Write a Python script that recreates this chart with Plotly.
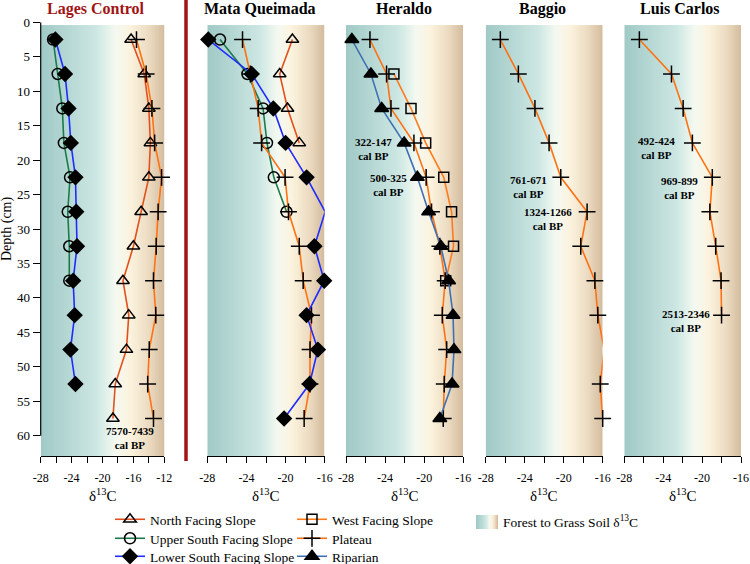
import numpy as np
import plotly.graph_objects as go

W, H = 750, 564

# ---------------- data ----------------
depths = [2.5, 7.5, 12.5, 17.5, 22.5, 27.5, 32.5, 37.5, 42.5, 47.5, 52.5, 57.5]

# Lages Control
lages_north = [-16.3, -14.6, -14.0, -13.8, -14.0, -15.0, -16.0, -17.35, -16.6, -16.9, -18.35, -18.65]
lages_upper = [-26.4, -25.8, -25.2, -25.0, -24.2, -24.5, -24.3, -24.3]
lages_lower = [-26.1, -24.85, -24.4, -24.1, -23.5, -23.4, -23.3, -23.8, -23.6, -24.15, -23.5]
lages_plateau = [-15.6, -14.35, -13.6, -13.25, -12.35, -12.8, -13.05, -13.4, -13.1, -13.95, -14.15, -13.4]

# Mata Queimada
mata_north = [-19.3, -20.6, -19.8, -18.6]
mata_upper = [-26.7, -23.9, -22.3, -21.9, -21.2, -19.9]
mata_lower = [-27.9, -23.45, -21.25, -20.0, -17.85, -15.95, -17.05, -16.05, -17.85, -16.7, -17.55, -20.15]
mata_plateau = [-24.4, -23.6, -22.8, -22.45, -20.05, -19.7, -18.6, -18.2, -17.35, -17.5, -17.5, -18.1]

# Heraldo
heraldo_riparian = [-27.4, -25.45, -24.35, -22.05, -20.7, -19.55, -18.3, -17.5, -17.05, -16.95, -17.15, -18.4]
heraldo_plateau = [-25.55, -23.85, -23.4, -21.05, -19.8, -19.25, -18.4, -17.85, -18.15, -17.7, -17.95, -18.05]
heraldo_west_depths = [7.5, 12.5, 17.5, 22.5, 27.5, 32.5, 37.5]
heraldo_west = [-23.1, -21.35, -19.85, -18.0, -17.2, -17.0, -17.8]

# Baggio
baggio_plateau = [-26.5, -24.65, -22.95, -21.5, -20.3, -17.6, -18.25, -16.8, -16.5, -15.85, -16.25, -16.0]

# Luis Carlos
luis_plateau = [-26.45, -23.15, -21.95, -21.0, -18.95, -19.2, -18.6, -18.05, -18.0]

panel_titles = ["Lages Control", "Mata Queimada", "Heraldo", "Baggio", "Luis Carlos"]

# dating annotations: (panel index, x value, depth, text)
dates = [
    (0, -16.4, 60.3, "7570-7439<br>cal BP"),
    (2, -25.2, 18.4, "322-147<br>cal BP"),
    (2, -23.7, 23.6, "500-325<br>cal BP"),
    (3, -23.6, 23.9, "761-671<br>cal BP"),
    (3, -21.6, 28.5, "1324-1266<br>cal BP"),
    (4, -24.65, 18.2, "492-424<br>cal BP"),
    (4, -22.35, 24.0, "969-899<br>cal BP"),
    (4, -21.7, 43.4, "2513-2346<br>cal BP"),
]

x_ranges = [(-28, -12), (-28, -16), (-28, -16), (-28, -16), (-28, -16)]
y_ticks = [0, 5, 10, 15, 20, 25, 30, 35, 40, 45, 50, 55, 60]

gradient_stops = [
    [0.0, "#a0c9c6"], [0.45, "#cde7e3"], [0.6, "#f4f9f1"],
    [0.72, "#fcf3df"], [0.88, "#ebdac0"], [1.0, "#d4bc9e"],
]

# ---------------- styles ----------------
FONT = "Liberation Serif"
series_style = {
    "North Facing Slope": dict(color="#e2501c", symbol="triangle-up-open", size=11, legend="legend"),
    "Upper South Facing Slope": dict(color="#1d7a4c", symbol="circle-open", size=11, legend="legend2"),
    "Lower South Facing Slope": dict(color="#1f2cff", symbol="diamond", size=11, legend="legend3"),
    "West Facing Slope": dict(color="#ff7b1c", symbol="square-open", size=10, legend="legend4"),
    "Plateau": dict(color="#ff7212", symbol="cross-thin", size=12, legend="legend5"),
    "Riparian": dict(color="#3f70b2", symbol="triangle-up", size=12, legend="legend6"),
}
# legend placement (left px, top px) for each single-entry legend
legend_pos = {
    "legend": (110, 504), "legend2": (110, 523), "legend3": (110, 541),
    "legend4": (292, 504), "legend5": (292, 523), "legend6": (292, 541),
}

# pixel geometry of panels
px_x = [(40.7, 164.3), (207.3, 324.7), (346.0, 463.3), (485.7, 602.7), (624.3, 741.0)]
py_top, py_bot = 22.3, 456.0
y_range = [62.94, 0]

fig = go.Figure()

def xa(i):
    return "x" if i == 0 else f"x{i+1}"

def ya(i):
    return "y" if i == 0 else f"y{i+1}"

# background gradients
for i, (x0, x1) in enumerate(x_ranges):
    n = 160
    edges = np.linspace(x0, x1, n + 1)
    fig.add_trace(go.Heatmap(
        x=edges, y=[0.4, 62.94], z=[np.linspace(0, 1, n).tolist()],
        colorscale=gradient_stops, zmin=0, zmax=1, showscale=False,
        hoverinfo="skip", xaxis=xa(i), yaxis=ya(i),
    ))

shown = set()

def add_series(panel, name, xs, ds):
    st = series_style[name]
    show = name not in shown
    shown.add(name)
    fig.add_trace(go.Scatter(
        x=xs, y=ds[:len(xs)], mode="lines+markers", name=name,
        legendgroup=name, showlegend=show, legend=st["legend"], cliponaxis=False,
        line=dict(color=st["color"], width=1.6),
        marker=dict(symbol=st["symbol"], size=st["size"], color="black",
                    line=dict(color="black", width=1.5)),
        xaxis=xa(panel), yaxis=ya(panel),
    ))

add_series(0, "North Facing Slope", lages_north, depths)
add_series(0, "Upper South Facing Slope", lages_upper, depths)
add_series(0, "Lower South Facing Slope", lages_lower, depths)
add_series(2, "West Facing Slope", heraldo_west, heraldo_west_depths)
add_series(0, "Plateau", lages_plateau, depths)
add_series(2, "Plateau", heraldo_plateau, depths)
add_series(2, "Riparian", heraldo_riparian, depths)
add_series(1, "North Facing Slope", mata_north, depths)
add_series(1, "Upper South Facing Slope", mata_upper, depths)
add_series(1, "Plateau", mata_plateau, depths)
add_series(1, "Lower South Facing Slope", mata_lower, depths)
add_series(3, "Plateau", baggio_plateau, depths)
add_series(4, "Plateau", luis_plateau, depths)

# axes
layout = dict(
    width=W, height=H, margin=dict(l=0, r=0, t=0, b=0, autoexpand=False),
    paper_bgcolor="white", plot_bgcolor="white",
    font=dict(family=FONT, color="black", size=12),
)
for i, (x0, x1) in enumerate(x_ranges):
    tv = list(range(x0, x1 + 1, 2))
    tt = [str(v) if (v - x0) % 4 == 0 else "" for v in tv]
    key = "xaxis" if i == 0 else f"xaxis{i+1}"
    ykey = "yaxis" if i == 0 else f"yaxis{i+1}"
    layout[key] = dict(
        domain=[px_x[i][0] / W, px_x[i][1] / W], range=[x0, x1], automargin=False,
        anchor=ya(i), tickvals=tv, ticktext=tt, ticks="outside", ticklen=6,
        tickwidth=1.2, tickcolor="black", showline=True, linecolor="black",
        linewidth=1.2, showgrid=False, zeroline=False, fixedrange=True,
        tickfont=dict(size=12), ticklabelstandoff=4, ticklabeloverflow="allow",
    )
    layout[ykey] = dict(
        domain=[1 - py_bot / H, 1 - py_top / H], range=y_range, automargin=False,
        anchor=xa(i), showgrid=False, zeroline=False, fixedrange=True,
        showticklabels=(i == 0), ticks="outside" if i == 0 else "",
        tickvals=y_ticks if i == 0 else None, ticklen=7, tickwidth=1.2,
        tickcolor="black", showline=False, tickfont=dict(size=13),
    )

# legend swatch axis for the gradient
layout["xaxis6"] = dict(domain=[476 / W, 498 / W], range=[0, 1], visible=False, anchor="y6",
                        fixedrange=True, automargin=False)
layout["yaxis6"] = dict(domain=[1 - 529 / H, 1 - 515 / H], range=[0, 1], visible=False, anchor="x6",
                        fixedrange=True, automargin=False)
fig.add_trace(go.Heatmap(
    x=np.linspace(0, 1, 41), y=[0, 1], z=[np.linspace(0, 1, 40).tolist()],
    colorscale=gradient_stops, zmin=0, zmax=1, showscale=False,
    hoverinfo="skip", xaxis="x6", yaxis="y6",
))

for key, (lx, ly) in legend_pos.items():
    layout[key] = dict(x=lx / W, y=1 - ly / H, xanchor="left", yanchor="top",
                       font=dict(size=13.5, family=FONT), bgcolor="rgba(0,0,0,0)",
                       itemwidth=30, traceorder="normal")

fig.update_layout(**layout)

annotations = []
title_centers = [95.7, 260, 403.7, 542, 680]
for i, t in enumerate(panel_titles):
    annotations.append(dict(
        text=f"<b>{t}</b>", x=title_centers[i] / W, y=1 - 8.5 / H, xref="paper", yref="paper",
        showarrow=False, xanchor="center", yanchor="middle",
        font=dict(size=16, family=FONT, color="#a01414" if i == 0 else "black"),
    ))
    annotations.append(dict(
        text="δ<sup>13</sup>C", x=(px_x[i][0] + px_x[i][1]) / 2 / W, y=1 - 495 / H,
        xref="paper", yref="paper", showarrow=False, xanchor="center", yanchor="middle",
        font=dict(size=15, family=FONT),
    ))
for (p, xv, dv, txt) in dates:
    annotations.append(dict(
        text=f"<b>{txt}</b>", x=xv, y=dv, xref=xa(p), yref=ya(p), showarrow=False,
        xanchor="center", yanchor="middle", font=dict(size=11, family=FONT),
    ))
annotations.append(dict(
    text="Forest to Grass Soil δ<sup>13</sup>C", x=501 / W, y=1 - 521 / H, xref="paper", yref="paper",
    showarrow=False, xanchor="left", yanchor="middle", font=dict(size=13.5, family=FONT),
))
annotations.append(dict(
    text="Depth (cm)", x=7 / W, y=1 - 229 / H, xref="paper", yref="paper", textangle=-90,
    showarrow=False, xanchor="center", yanchor="middle", font=dict(size=14, family=FONT),
))
fig.update_layout(annotations=annotations)

# y-axis line for first panel (0 to 60) and red divider
fig.add_shape(type="line", xref="x domain", yref="y", x0=0, x1=0, y0=0, y1=60,
              line=dict(color="black", width=1.2))
fig.add_shape(type="line", xref="paper", yref="paper", x0=186 / W, x1=186 / W,
              y0=1, y1=1 - 461 / H, line=dict(color="#a31414", width=3.5))

fig.write_html("out.html", config={"displayModeBar": False},
               post_script="document.body.style.margin='0px';")
